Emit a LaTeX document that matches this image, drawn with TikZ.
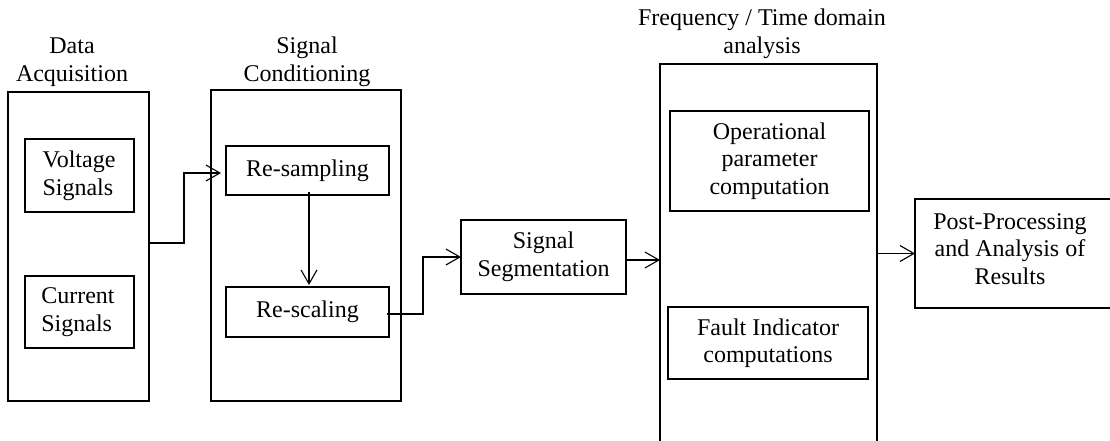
\documentclass[tikz,border=0pt]{standalone}
\usepackage{fontspec}
\setmainfont{Liberation Serif}
\usetikzlibrary{arrows.meta,calc}
\begin{document}
\begin{tikzpicture}[x=1pt,y=-1pt,
  every node/.style={font=\fontsize{24}{27.5}\selectfont, inner sep=0pt, outer sep=0pt},
  box/.style={draw, line width=1.2pt, rectangle, align=center},
  lbox/.style={align=left},
  ttl/.style={align=center},
  arr/.style={line width=1.1pt, -{Straight Barb[length=14pt,width=16pt,line width=1.1pt]}}]
\useasboundingbox[fill=white] (0,0) rectangle (1110,441);
% outer containers
\node[box, minimum width=141pt, minimum height=309pt] (DA) at (78.5,246.5) {};
\node[box, minimum width=190pt, minimum height=311pt] (SC) at (306,245.5) {};
\node[box, minimum width=217pt, minimum height=386pt] (FTD) at (768.5,257) {};
% titles
\node[ttl] (tDA) at (72,62) {Data\\Acquisition};
\node[ttl] (tSC) at (307,62) {Signal\\Conditioning};
\node[ttl] (tFTD) at (762,34) {Frequency / Time domain\\analysis};
% inner boxes
\node[box, minimum width=109pt, minimum height=73pt] (V) at (79.5,175.5) {};
\node[lbox] (Vt) at (79,176) {Voltage\\Signals};
\node[box, minimum width=109pt, minimum height=72pt] (C) at (79.5,312) {};
\node[lbox] (Ct) at (78,312) {Current\\Signals};
\node[box, minimum width=163pt, minimum height=49pt] (RS) at (307.5,170.5) {Re-sampling};
\node[box, minimum width=163pt, minimum height=50pt] (RC) at (307.5,312) {Re-scaling};
\node[box, minimum width=165pt, minimum height=74pt] (SS) at (543.5,257) {Signal\\Segmentation};
\node[box, minimum width=199pt, minimum height=100pt] (OP) at (769.5,161) {Operational\\parameter\\computation};
\node[box, minimum width=200pt, minimum height=72pt] (FI) at (768,343) {Fault Indicator\\computations};
\node[box, minimum width=200pt, minimum height=109pt] (PP) at (1015,253.5) {};
\node[ttl] (PPt) at (1010,249) {Post-Processing\\and Analysis of\\Results};
% connectors
\draw[arr] ([yshift=3.5pt]DA.east) -- ++(35,0) |- ([xshift=-5pt,yshift=-2.5pt]RS.west);
\draw[arr] ([xshift=1.5pt,yshift=3pt]RS.south) -- ([xshift=1.5pt,yshift=2pt]RC.north);
\draw[arr] ([xshift=-2pt,yshift=-2pt]RC.east) -- ++(36,0) |- (SS.west);
\draw[arr] ([yshift=-3pt]SS.east) -- ([yshift=-3pt]SS.east -| FTD.west);
\draw[arr] (PP.west -| FTD.east) -- (PP.west);
\end{tikzpicture}
\end{document}
